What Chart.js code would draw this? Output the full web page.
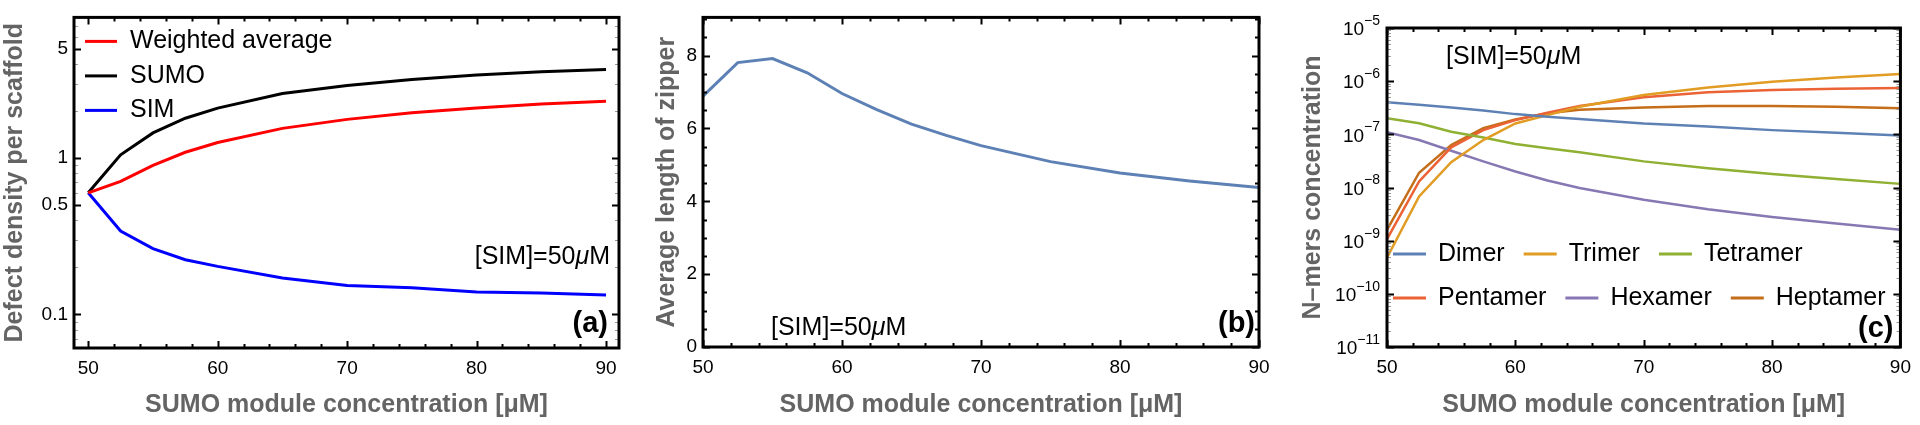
<!DOCTYPE html>
<html>
<head>
  <meta charset="utf-8">
  <title>SUMO / SIM panels</title>
  <script src="https://cdn.jsdelivr.net/npm/chart.js"></script>
  <style>
    html, body { margin: 0; padding: 0; background: #fff; }
    body { width: 1920px; height: 425px; position: relative; overflow: hidden; }
    .panel { position: absolute; top: 0; width: 640px; height: 425px; }
    #pa { left: 0; }
    #pb { left: 640px; }
    #pc { left: 1280px; }
  </style>
</head>
<body>
  <div class="panel" id="pa"><canvas id="chartA" width="640" height="425"></canvas></div>
  <div class="panel" id="pb"><canvas id="chartB" width="640" height="425"></canvas></div>
  <div class="panel" id="pc"><canvas id="chartC" width="640" height="425"></canvas></div>

<script>
  // ---- data ----
  // (a) defect density per scaffold
  const sumoA = [50, 52.5, 55, 57.5, 60, 65, 70, 75, 80, 85, 90];
  const weightedAvg = [0.6, 0.71, 0.9, 1.09, 1.26, 1.55, 1.77, 1.95, 2.09, 2.22, 2.31];
  const sumoDefect = [0.6, 1.05, 1.45, 1.8, 2.09, 2.59, 2.92, 3.19, 3.4, 3.57, 3.69];
  const simDefect = [0.6, 0.342, 0.264, 0.224, 0.203, 0.171, 0.153, 0.148, 0.139, 0.137, 0.133];

  // (b) average length of zipper
  const sumoB = [50, 52.5, 55, 57.5, 60, 62.5, 65, 67.5, 70, 75, 80, 85, 90];
  const zipperLength = [6.89, 7.81, 7.92, 7.53, 6.96, 6.52, 6.12, 5.81, 5.53, 5.09, 4.78, 4.56, 4.38];

  // (c) N-mers concentration
  const sumoC = [50, 52.5, 55, 57.5, 60, 62.5, 65, 70, 75, 80, 85, 90];
  const dimer = [4.0e-7, 3.6e-7, 3.2e-7, 2.8e-7, 2.4e-7, 2.15e-7, 1.95e-7, 1.6e-7, 1.4e-7, 1.2e-7, 1.07e-7, 9.5e-8];
  const trimer = [4.8e-10, 6.8e-9, 3.0e-8, 7.8e-8, 1.6e-7, 2.3e-7, 3.3e-7, 5.5e-7, 7.6e-7, 9.8e-7, 1.17e-6, 1.37e-6];
  const tetramer = [2.0e-7, 1.62e-7, 1.12e-7, 8.7e-8, 6.6e-8, 5.5e-8, 4.6e-8, 3.1e-8, 2.3e-8, 1.8e-8, 1.45e-8, 1.17e-8];
  const pentamer = [1.07e-9, 1.3e-8, 5.7e-8, 1.2e-7, 1.85e-7, 2.55e-7, 3.4e-7, 5.0e-7, 6.2e-7, 6.8e-7, 7.2e-7, 7.4e-7];
  const hexamer = [1.1e-7, 7.8e-8, 4.9e-8, 3.1e-8, 2.0e-8, 1.35e-8, 9.8e-9, 5.9e-9, 3.9e-9, 2.8e-9, 2.1e-9, 1.6e-9];
  const heptamer = [1.6e-9, 1.9e-8, 6.3e-8, 1.3e-7, 1.9e-7, 2.5e-7, 2.9e-7, 3.2e-7, 3.4e-7, 3.4e-7, 3.3e-7, 3.1e-7];

  // tick labels
  const sumoTicks = [50, 60, 70, 80, 90];
  const defectTicks = [0.1, 0.5, 1, 5];
  const zipperTicks = [0, 2, 4, 6, 8];
  const nmerTicks = [1e-11, 1e-10, 1e-9, 1e-8, 1e-7, 1e-6, 1e-5];
  const nmerExponents = ['−11', '−10', '−9', '−8', '−7', '−6', '−5'];

  const FAMILY = '"Liberation Sans", Arial, "DejaVu Sans", sans-serif';
  const TITLE_GREY = '#646464';
  const TICK_SIZE = 19;

  const pairs = (xs, ys) => xs.map((x, i) => ({ x: x, y: ys[i] }));

  // minor tick positions
  const everyStep = (a, b, step, skip) => {
    const out = [];
    for (let v = a; v <= b + 1e-9; v += step) {
      if (!skip.some(s => Math.abs(s - v) < 1e-9)) out.push(v);
    }
    return out;
  };
  const logMinors = (lo, hi, decades) => {
    const out = [];
    decades.forEach(d => {
      for (let k = 2; k <= 9; k++) {
        const v = k * d;
        if (v > lo && v < hi) out.push(v);
      }
    });
    return out;
  };

  // inward Mathematica-style frame ticks on all four sides
  const frameTicks = {
    id: 'frameTicks',
    afterDatasetsDraw(chart, args, opts) {
      const { ctx, chartArea: ca, scales } = chart;
      const xs = scales.x, ys = scales.y;
      ctx.save();
      const drawX = (vals, len, lw, col) => {
        ctx.strokeStyle = col; ctx.lineWidth = lw;
        ctx.beginPath();
        vals.forEach(v => {
          const px = Math.round(xs.getPixelForValue(v)) + 0.5;
          ctx.moveTo(px, ca.bottom); ctx.lineTo(px, ca.bottom - len);
          ctx.moveTo(px, ca.top); ctx.lineTo(px, ca.top + len);
        });
        ctx.stroke();
      };
      const drawY = (vals, len, lw, col) => {
        ctx.strokeStyle = col; ctx.lineWidth = lw;
        ctx.beginPath();
        vals.forEach(v => {
          const py = Math.round(ys.getPixelForValue(v)) + 0.5;
          ctx.moveTo(ca.left, py); ctx.lineTo(ca.left + len, py);
          ctx.moveTo(ca.right, py); ctx.lineTo(ca.right - len, py);
        });
        ctx.stroke();
      };
      drawX(opts.xMinor, 4, 2, '#000');
      drawX(opts.xMajor, 7, 2, '#000');
      drawY(opts.yMinor, opts.yMinorLen || 4, opts.yMinorWidth || 2, opts.yMinorColor || '#000');
      drawY(opts.yMajor, 7, 2, '#000');
      ctx.lineWidth = 3;
      ctx.strokeStyle = '#000';
      ctx.strokeRect(ca.left, ca.top, ca.width, ca.height);

      // power-of-ten labels with a raised exponent
      if (opts.powerLabels) {
        const pl = opts.powerLabels;
        ctx.fillStyle = '#000';
        ctx.textBaseline = 'middle';
        ctx.textAlign = 'left';
        pl.values.forEach((v, i) => {
          const y = ys.getPixelForValue(v);
          ctx.font = TICK_SIZE + 'px ' + FAMILY;
          const wBase = ctx.measureText('10').width;
          ctx.font = '14px ' + FAMILY;
          const wExp = ctx.measureText(pl.exponents[i]).width;
          const x0 = ca.left - 7 - wBase - wExp;
          ctx.font = TICK_SIZE + 'px ' + FAMILY;
          ctx.fillText('10', x0, y + 2);
          ctx.font = '14px ' + FAMILY;
          ctx.fillText(pl.exponents[i], x0 + wBase, y - 7);
        });
      }
      ctx.restore();
    }
  };

  // legends and text notes placed inside the frame
  const panelNotes = {
    id: 'panelNotes',
    afterDraw(chart, args, opts) {
      const { ctx, chartArea: ca } = chart;
      ctx.save();
      ctx.textBaseline = 'middle';
      const lg = opts.legend;
      if (lg) {
        ctx.font = '25px ' + FAMILY;
        lg.rows.forEach((row, r) => {
          let x = ca.left + lg.x;
          const y = ca.top + lg.y + r * lg.dy;
          row.forEach(i => {
            const ds = chart.data.datasets[i];
            ctx.strokeStyle = ds.borderColor;
            ctx.lineWidth = 3;
            ctx.beginPath();
            ctx.moveTo(x, y); ctx.lineTo(x + lg.len, y);
            ctx.stroke();
            ctx.fillStyle = '#000';
            ctx.textAlign = 'left';
            ctx.fillText(ds.label, x + lg.textGap, y);
            x += lg.textGap + ctx.measureText(ds.label).width + lg.after;
          });
        });
      }
      (opts.notes || []).forEach(n => {
        const parts = n.parts.map(p => ({
          t: p.t,
          font: (p.italic ? 'italic ' : '') + (n.bold ? 'bold ' : '') + n.size + 'px ' + FAMILY
        }));
        let total = 0;
        parts.forEach(p => { ctx.font = p.font; p.w = ctx.measureText(p.t).width; total += p.w; });
        let x = n.align === 'right' ? ca.right + n.x - total : ca.left + n.x;
        const y = n.fromBottom ? ca.bottom + n.y : ca.top + n.y;
        ctx.fillStyle = '#000';
        ctx.textAlign = 'left';
        parts.forEach(p => { ctx.font = p.font; ctx.fillText(p.t, x, y); x += p.w; });
      });
      ctx.restore();
    }
  };

  const simNote = [{ t: '[SIM]=50' }, { t: 'μ', italic: true }, { t: 'M' }];

  function xAxis(min, max, height) {
    return {
      type: 'linear', min: min, max: max,
      grid: { display: false, drawTicks: false },
      border: { display: false },
      afterBuildTicks: s => { s.ticks = sumoTicks.map(v => ({ value: v })); },
      afterFit: s => { s.height = height; },
      ticks: { font: { family: FAMILY, size: TICK_SIZE }, color: '#000', padding: 9, maxRotation: 0, autoSkip: false },
      title: {
        display: true, text: 'SUMO module concentration [μM]', color: TITLE_GREY,
        font: { family: FAMILY, size: 25, weight: 'bold' }, padding: { top: 0, bottom: 5 }
      }
    };
  }

  function yAxis(type, min, max, width, tickVals, labelFn, title, titlePad, showLabels) {
    return {
      type: type, min: min, max: max,
      grid: { display: false, drawTicks: false },
      border: { display: false },
      afterBuildTicks: s => { s.ticks = tickVals.map(v => ({ value: v })); },
      afterFit: s => { s.width = width; },
      ticks: {
        display: showLabels !== false,
        font: { family: FAMILY, size: TICK_SIZE }, color: '#000', padding: 6, autoSkip: false, callback: labelFn
      },
      title: {
        display: true, text: title, color: TITLE_GREY,
        font: { family: FAMILY, size: 25, weight: 'bold' }, padding: { top: titlePad, bottom: 0 }
      }
    };
  }

  const common = {
    responsive: false,
    animation: false,
    devicePixelRatio: 1,
    elements: { point: { radius: 0 }, line: { tension: 0, borderWidth: 3 } }
  };

  // ---- (a) ----
  new Chart(document.getElementById('chartA'), {
    type: 'line',
    data: {
      datasets: [
        { label: 'Weighted average', data: pairs(sumoA, weightedAvg), borderColor: '#ff0000' },
        { label: 'SUMO', data: pairs(sumoA, sumoDefect), borderColor: '#000000' },
        { label: 'SIM', data: pairs(sumoA, simDefect), borderColor: '#0000ff' }
      ]
    },
    options: Object.assign({}, common, {
      layout: { padding: { left: 0, top: 12, right: 21, bottom: 0 } },
      plugins: {
        legend: { display: false },
        tooltip: { enabled: false },
        frameTicks: {
          xMajor: sumoTicks, xMinor: everyStep(50, 90, 2, sumoTicks),
          yMajor: defectTicks, yMinor: logMinors(0.061, 7.95, [0.01, 0.1, 1]).filter(v => Math.abs(v - 0.5) > 1e-9 && Math.abs(v - 5) > 1e-9),
          yMinorColor: '#9a9a9a', yMinorWidth: 1, yMinorLen: 4
        },
        panelNotes: {
          legend: { x: 11, y: 24, dy: 34.5, rows: [[0], [1], [2]], len: 32, textGap: 45, after: 20 },
          notes: [
            { parts: simNote, size: 25, align: 'right', x: -9, y: 240 },
            { parts: [{ t: '(a)' }], size: 29, bold: true, align: 'right', x: -11, y: -24, fromBottom: true }
          ]
        }
      },
      scales: {
        x: xAxis(48.9, 91.0, 77),
        y: yAxis('logarithmic', 0.061, 7.95, 74, defectTicks, v => String(v), 'Defect density per scaffold', 0)
      }
    }),
    plugins: [frameTicks, panelNotes]
  });

  // ---- (b) ----
  new Chart(document.getElementById('chartB'), {
    type: 'line',
    data: {
      datasets: [
        { label: 'Zipper', data: pairs(sumoB, zipperLength), borderColor: '#5E81B5' }
      ]
    },
    options: Object.assign({}, common, {
      layout: { padding: { left: 0, top: 4, right: 21, bottom: 0 } },
      plugins: {
        legend: { display: false },
        tooltip: { enabled: false },
        frameTicks: {
          xMajor: sumoTicks, xMinor: everyStep(50, 90, 2, sumoTicks),
          yMajor: zipperTicks, yMinor: everyStep(0, 9, 0.5, zipperTicks)
        },
        panelNotes: {
          notes: [
            { parts: simNote, size: 25, align: 'left', x: 68, y: -19, fromBottom: true },
            { parts: [{ t: '(b)' }], size: 29, bold: true, align: 'right', x: -4, y: -23, fromBottom: true }
          ]
        }
      },
      scales: {
        x: xAxis(50, 90, 78),
        y: yAxis('linear', 0, 9.05, 63, zipperTicks, v => String(v), 'Average length of zipper', 12)
      }
    }),
    plugins: [frameTicks, panelNotes]
  });

  // ---- (c) ----
  new Chart(document.getElementById('chartC'), {
    type: 'line',
    data: {
      datasets: [
        { label: 'Dimer', data: pairs(sumoC, dimer), borderColor: '#5E81B5' },
        { label: 'Trimer', data: pairs(sumoC, trimer), borderColor: '#E19C24' },
        { label: 'Tetramer', data: pairs(sumoC, tetramer), borderColor: '#8FB032' },
        { label: 'Pentamer', data: pairs(sumoC, pentamer), borderColor: '#EB6235' },
        { label: 'Hexamer', data: pairs(sumoC, hexamer), borderColor: '#8778B3' },
        { label: 'Heptamer', data: pairs(sumoC, heptamer), borderColor: '#C56E1A' }
      ]
    },
    options: Object.assign({}, common, {
      elements: { point: { radius: 0 }, line: { tension: 0, borderWidth: 2.5 } },
      layout: { padding: { left: 0, top: 28, right: 15, bottom: 0 } },
      plugins: {
        legend: { display: false },
        tooltip: { enabled: false },
        frameTicks: {
          xMajor: sumoTicks, xMinor: everyStep(50, 90, 2, sumoTicks),
          yMajor: nmerTicks, yMinor: logMinors(1e-11, 1e-5, [1e-11, 1e-10, 1e-9, 1e-8, 1e-7, 1e-6]),
          yMinorColor: '#9a9a9a', yMinorWidth: 1, yMinorLen: 4,
          powerLabels: { values: nmerTicks, exponents: nmerExponents }
        },
        panelNotes: {
          legend: { x: 6, y: 226, dy: 44, rows: [[0, 1, 2], [3, 4, 5]], len: 33, textGap: 45, after: 19 },
          notes: [
            { parts: simNote, size: 25, align: 'left', x: 59, y: 29 },
            { parts: [{ t: '(c)' }], size: 29, bold: true, align: 'right', x: -7, y: -18, fromBottom: true }
          ]
        }
      },
      scales: {
        x: xAxis(50, 90, 78),
        y: yAxis('logarithmic', 1e-11, 1e-5, 107, nmerTicks, v => '', 'N–mers concentration', 18, false)
      }
    }),
    plugins: [frameTicks, panelNotes]
  });
</script>
</body>
</html>
